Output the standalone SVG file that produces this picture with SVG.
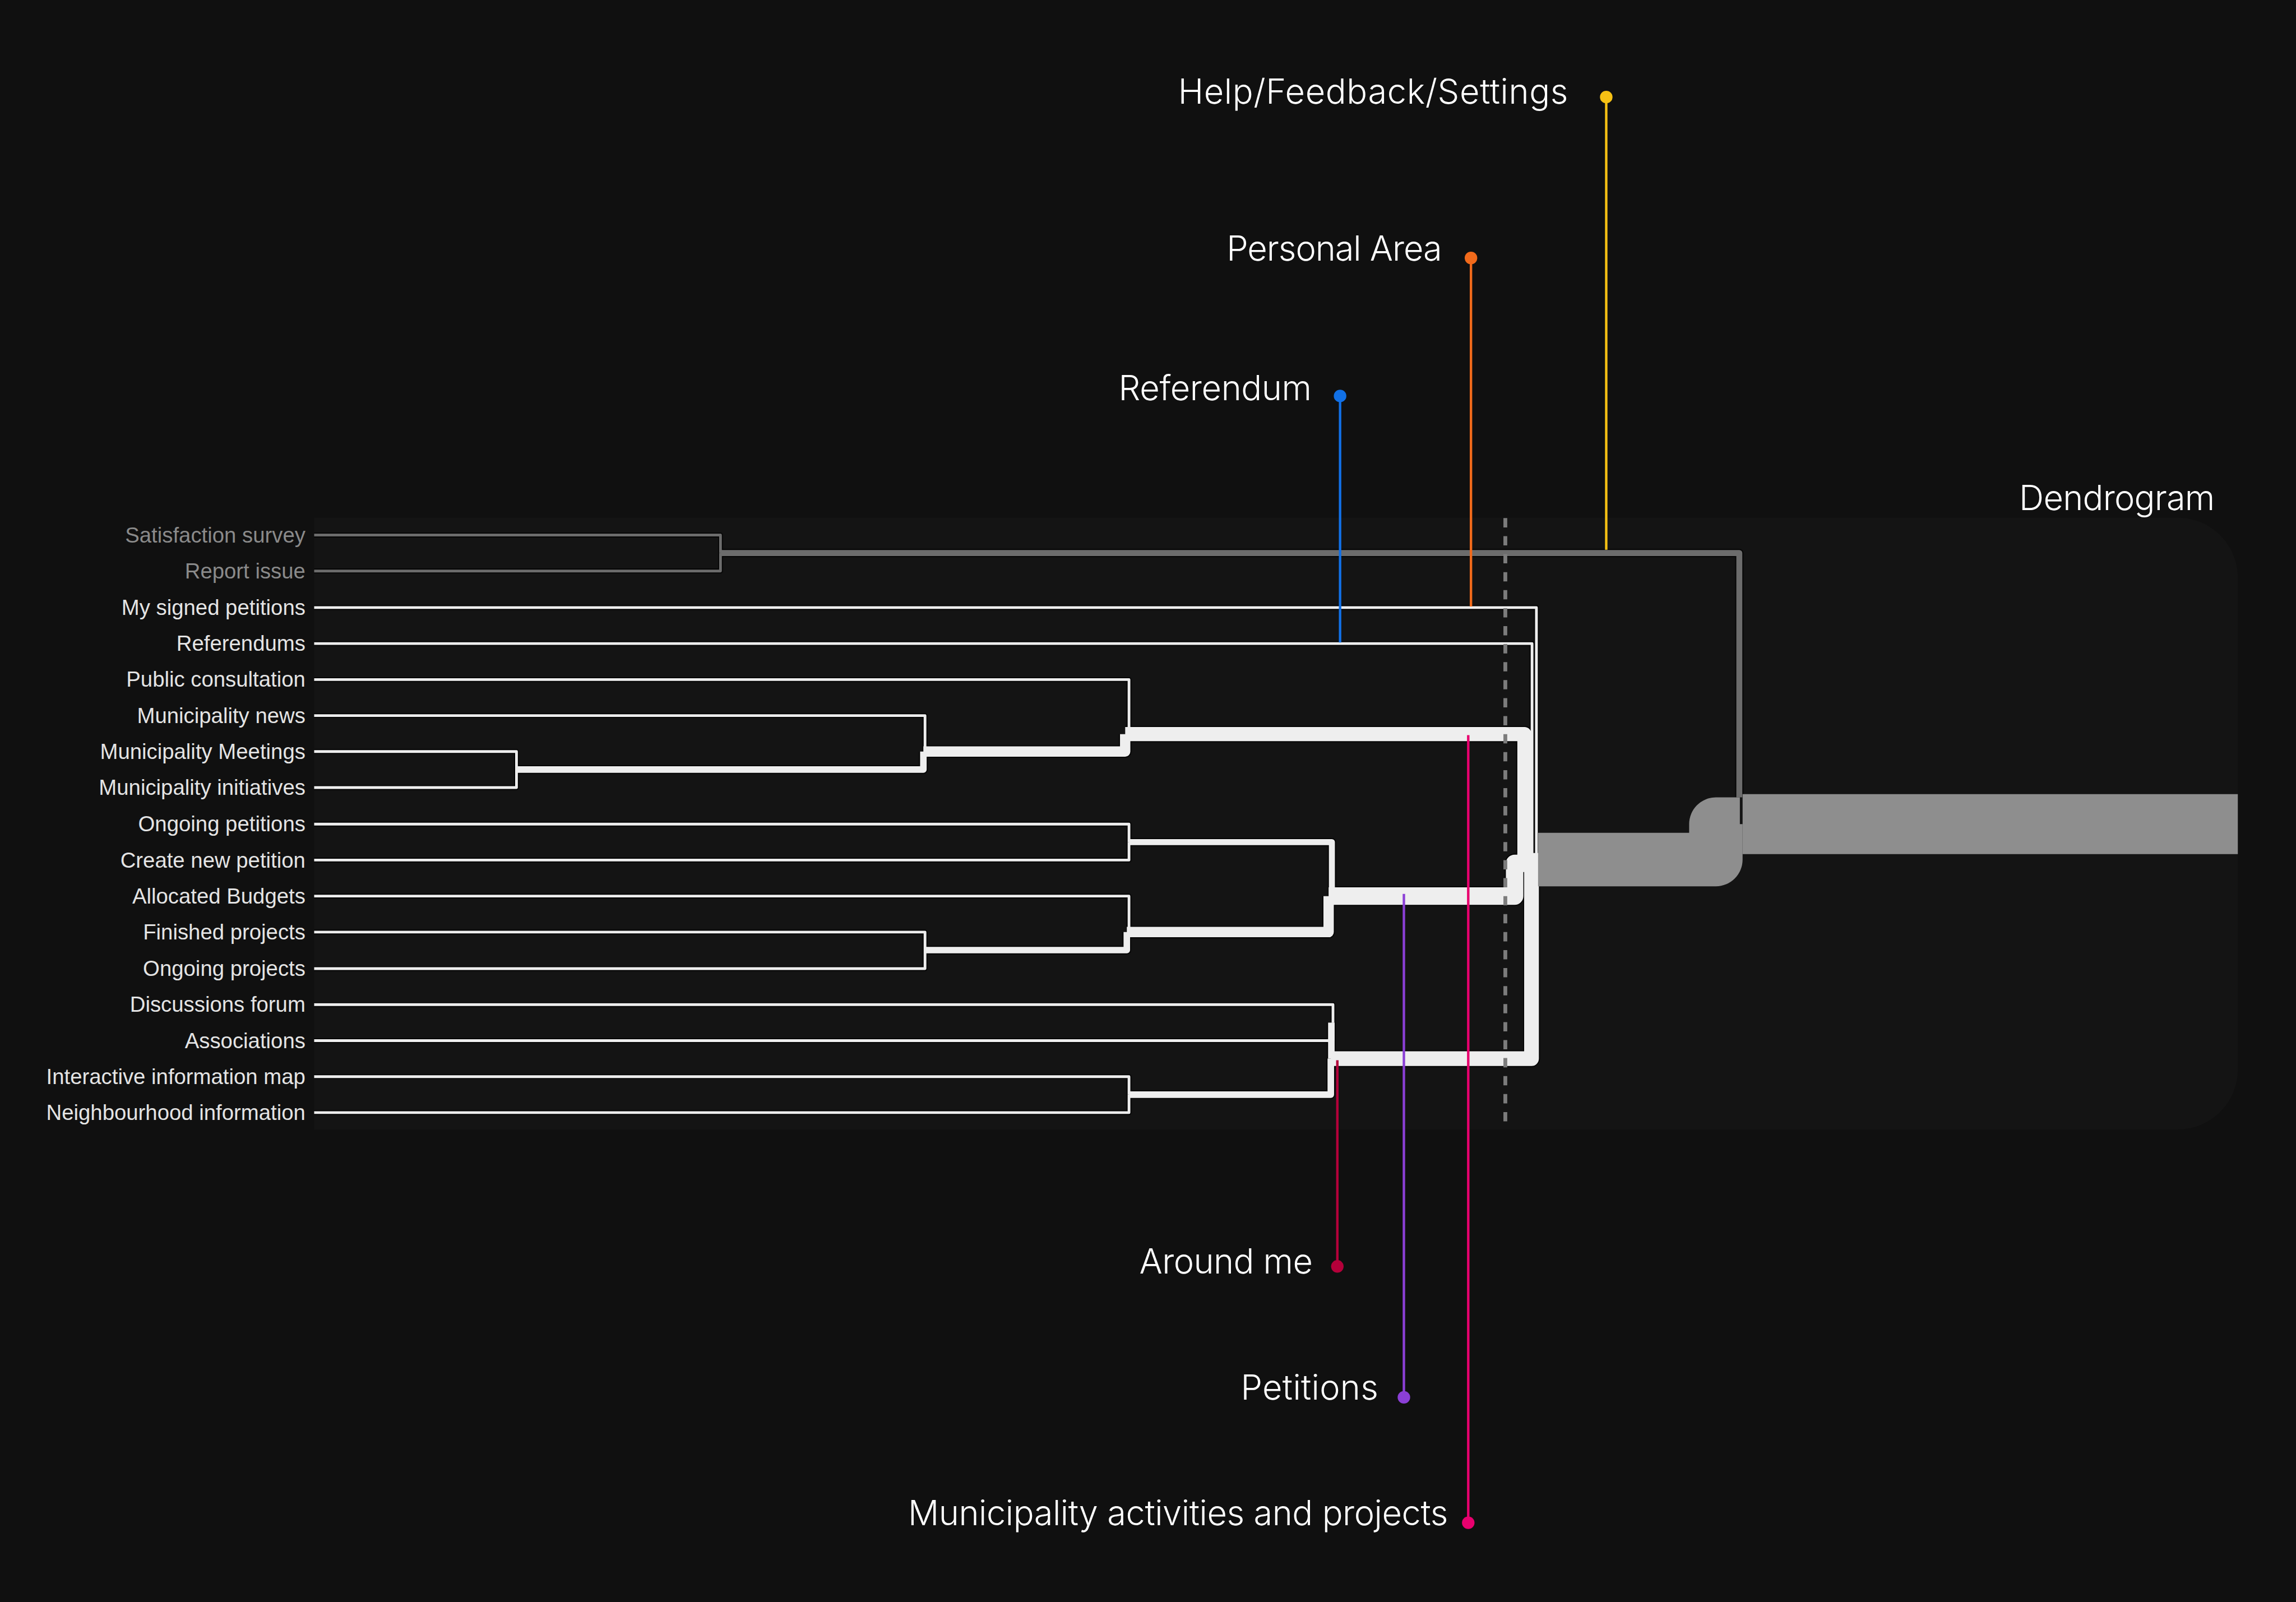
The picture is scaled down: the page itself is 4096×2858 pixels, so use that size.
<svg xmlns="http://www.w3.org/2000/svg" width="4096" height="2858" viewBox="0 0 4096 2858">
<defs>
<style>
.lbl{font-family:"Liberation Sans",Arial,sans-serif;font-size:39.4px;text-anchor:end;fill:#e4e4e4}
.dim{fill:#8a8a8a}
.call{font-family:Inter,"Noto Sans",sans-serif;font-size:63px;text-anchor:end;fill:#ffffff;font-weight:300}
.ol{fill:none;stroke:#050505;stroke-linejoin:round}
.wl{fill:none;stroke:#eeeeee;stroke-linejoin:round}
.gl{fill:none;stroke:#6c6c6c;stroke-linejoin:round}
.band{fill:none;stroke:#8e8e8e;stroke-linejoin:round}
.lead{fill:none;stroke-width:4.5}
.dash{fill:none;stroke:#7c7c7c;stroke-width:7;stroke-dasharray:17 16}
</style>
</defs>
<rect x="0" y="0" width="4096" height="2858" fill="#101010"/>
<g transform="scale(0.973)">
<path id="panel" d="M576 949 H3993 A110 110 0 0 1 4103 1059 V1961 A110 110 0 0 1 3993 2071 H576 Z" fill="#141414"/>

<g id="connectors">
 <g id="outlines" class="ol">
  <path d="M576 981 H1321 V1014" stroke-width="9"/>
  <path d="M576 1047 H1321 V1014" stroke-width="9"/>
  <path d="M1321 1014 H3189 V1462" stroke-width="15"/>
  <path d="M576 1114 H2817 V1577 H2822" stroke-width="9"/>
  <path d="M576 1180 H2809 V1577 H2822" stroke-width="9"/>
  <path d="M576 1246 H2070 V1346" stroke-width="9"/>
  <path d="M576 1312 H1696 V1378" stroke-width="9"/>
  <path d="M576 1378 H947 V1411" stroke-width="9"/>
  <path d="M576 1444 H947 V1411" stroke-width="9"/>
  <path d="M947 1411 H1693 V1378" stroke-width="16"/>
  <path d="M1693 1378 H2063 V1346" stroke-width="23"/>
  <path d="M2063 1346 H2795 V1577 H2822" stroke-width="30"/>
  <path d="M576 1511 H2070 V1544" stroke-width="9"/>
  <path d="M576 1577 H2070 V1544" stroke-width="9"/>
  <path d="M2070 1544 H2442 V1643" stroke-width="15"/>
  <path d="M576 1643 H2070 V1709" stroke-width="9"/>
  <path d="M576 1709 H1696 V1742" stroke-width="9"/>
  <path d="M576 1776 H1696 V1742" stroke-width="9"/>
  <path d="M1696 1742 H2066 V1709" stroke-width="16"/>
  <path d="M2066 1709 H2436 V1643" stroke-width="23"/>
  <path d="M2436 1643 H2777 V1583 H2822" stroke-width="36"/>
  <path d="M576 1842 H2444 V1875" stroke-width="9"/>
  <path d="M576 1908 H2444 V1875" stroke-width="9"/>
  <path d="M2441 1875 V1941" stroke-width="16"/>
  <path d="M576 1974 H2070 V2007" stroke-width="9"/>
  <path d="M576 2040 H2070 V2007" stroke-width="9"/>
  <path d="M2070 2007 H2440 V1941" stroke-width="16"/>
  <path d="M2440 1941 H2808 V1598" stroke-width="31"/>
 </g>
 <g id="grey-links" class="gl">
  <path d="M576 981 H1321 V1014" stroke-width="5"/>
  <path d="M576 1047 H1321 V1014" stroke-width="5"/>
  <path d="M1321 1014 H3189 V1462" stroke-width="11"/>
 </g>
 <g id="white-links" class="wl">
  <path d="M576 1114 H2817 V1577 H2822" stroke-width="5"/>
  <path d="M576 1180 H2809 V1577 H2822" stroke-width="5"/>
  <path d="M576 1246 H2070 V1346" stroke-width="5"/>
  <path d="M576 1312 H1696 V1378" stroke-width="5"/>
  <path d="M576 1378 H947 V1411" stroke-width="5"/>
  <path d="M576 1444 H947 V1411" stroke-width="5"/>
  <path d="M947 1411 H1693 V1378" stroke-width="12"/>
  <path d="M1693 1378 H2063 V1346" stroke-width="19"/>
  <path d="M2063 1346 H2795 V1577 H2822" stroke-width="26"/>
  <path d="M576 1511 H2070 V1544" stroke-width="5"/>
  <path d="M576 1577 H2070 V1544" stroke-width="5"/>
  <path d="M2070 1544 H2442 V1643" stroke-width="11"/>
  <path d="M576 1643 H2070 V1709" stroke-width="5"/>
  <path d="M576 1709 H1696 V1742" stroke-width="5"/>
  <path d="M576 1776 H1696 V1742" stroke-width="5"/>
  <path d="M1696 1742 H2066 V1709" stroke-width="12"/>
  <path d="M2066 1709 H2436 V1643" stroke-width="19"/>
  <path d="M2436 1643 H2777 V1583 H2822" stroke-width="32"/>
  <path d="M576 1842 H2444 V1875" stroke-width="5"/>
  <path d="M576 1908 H2444 V1875" stroke-width="5"/>
  <path d="M2441 1875 V1941" stroke-width="12"/>
  <path d="M576 1974 H2070 V2007" stroke-width="5"/>
  <path d="M576 2040 H2070 V2007" stroke-width="5"/>
  <path d="M2070 2007 H2440 V1941" stroke-width="12"/>
  <path d="M2440 1941 H2808 V1598" stroke-width="27"/>
 </g>
 <g id="root-band" class="band">
  <path d="M2820 1576 H3146 V1511 H3190" stroke-width="98"/>
  <path d="M3195 1511 H4103" stroke-width="110"/>
 </g>
 <path id="cut-line" class="dash" d="M2760 950 V2060"/>
 <g id="leaders" class="lead">
  <path d="M2945 178 V1008" stroke="#f6c114"/>
  <path d="M2697 473 V1112" stroke="#f26a1b"/>
  <path d="M2457 726 V1178" stroke="#1170e6"/>
  <path d="M2452 1944 V2322" stroke="#b4003a"/>
  <path d="M2574 1639 V2562" stroke="#8b3fd6"/>
  <path d="M2692 1348 V2792" stroke="#e8006e"/>
 </g>
</g>

<g id="leaf-satisfaction-survey"><text class="lbl dim" x="560" y="994.5">Satisfaction survey</text></g>
<g id="leaf-report-issue"><text class="lbl dim" x="560" y="1060.5">Report issue</text></g>
<g id="leaf-my-signed-petitions"><text class="lbl" x="560" y="1127.5">My signed petitions</text></g>
<g id="leaf-referendums"><text class="lbl" x="560" y="1193.5">Referendums</text></g>
<g id="leaf-public-consultation"><text class="lbl" x="560" y="1259.5">Public consultation</text></g>
<g id="leaf-municipality-news"><text class="lbl" x="560" y="1325.5">Municipality news</text></g>
<g id="leaf-municipality-meetings"><text class="lbl" x="560" y="1391.5">Municipality Meetings</text></g>
<g id="leaf-municipality-initiatives"><text class="lbl" x="560" y="1457.5">Municipality initiatives</text></g>
<g id="leaf-ongoing-petitions"><text class="lbl" x="560" y="1524.5">Ongoing petitions</text></g>
<g id="leaf-create-new-petition"><text class="lbl" x="560" y="1590.5">Create new petition</text></g>
<g id="leaf-allocated-budgets"><text class="lbl" x="560" y="1656.5">Allocated Budgets</text></g>
<g id="leaf-finished-projects"><text class="lbl" x="560" y="1722.5">Finished projects</text></g>
<g id="leaf-ongoing-projects"><text class="lbl" x="560" y="1789.5">Ongoing projects</text></g>
<g id="leaf-discussions-forum"><text class="lbl" x="560" y="1855.5">Discussions forum</text></g>
<g id="leaf-associations"><text class="lbl" x="560" y="1921.5">Associations</text></g>
<g id="leaf-interactive-information-map"><text class="lbl" x="560" y="1987.5">Interactive information map</text></g>
<g id="leaf-neighbourhood-information"><text class="lbl" x="560" y="2053.5">Neighbourhood information</text></g>

<g id="callout-help"><text class="call" x="2875" y="190" textLength="715">Help/Feedback/Settings</text><circle cx="2945" cy="178" r="11.5" fill="#f6c114"/></g>
<g id="callout-personal-area"><text class="call" x="2644" y="478" textLength="395">Personal Area</text><circle cx="2697" cy="473" r="11.5" fill="#f26a1b"/></g>
<g id="callout-referendum"><text class="call" x="2405" y="734" textLength="354">Referendum</text><circle cx="2457" cy="726" r="11.5" fill="#1170e6"/></g>
<g id="title-dendrogram"><text class="call" x="4061" y="935" textLength="359">Dendrogram</text></g>
<g id="callout-around-me"><text class="call" x="2407" y="2335" textLength="318">Around me</text><circle cx="2452" cy="2322" r="11.5" fill="#b4003a"/></g>
<g id="callout-petitions"><text class="call" x="2527" y="2566" textLength="252">Petitions</text><circle cx="2574" cy="2562" r="11.5" fill="#8b3fd6"/></g>
<g id="callout-municipality"><text class="call" x="2655" y="2797" textLength="990">Municipality activities and projects</text><circle cx="2692" cy="2792" r="11.5" fill="#e8006e"/></g>
</g>
</svg>
